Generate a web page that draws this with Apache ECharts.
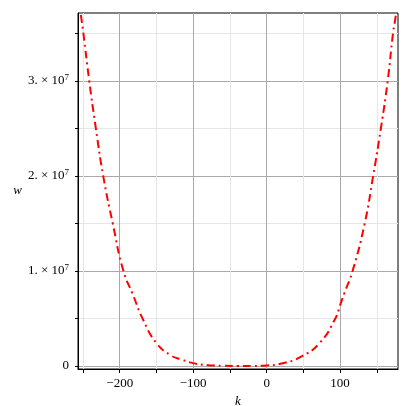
<!DOCTYPE html>
<html><head><meta charset="utf-8">
<script src="https://cdn.jsdelivr.net/npm/echarts@6/dist/echarts.min.js"></script>
<style>html,body{margin:0;padding:0;background:#fff}#c{width:409px;height:406px}</style>
</head><body><div id="c"></div>
<script>
// data
const kValues = [-256.5, -252.7, -249.5, -241.5, -232.5, -222.5, -209.5, -195, -182, -169, -150, -130, -115, -100, -80, -60, -40, -20, 0, 22, 47, 72, 93.5, 100, 106, 117, 133.5, 145, 155.5, 164.8, 172, 175.7, 179];
const wValues = [3.88e7, 3.68e7, 3.5e7, 3.0e7, 2.5e7, 2.0e7, 1.5e7, 1.0e7, 0.75e7, 0.5e7, 0.24e7, 0.11e7, 0.065e7, 0.03e7, 0.008e7, 0.002e7, 0.0, 0.0005e7, 0.005e7, 0.028e7, 0.098e7, 0.24e7, 0.5e7, 0.64e7, 0.77e7, 1.0e7, 1.5e7, 2.0e7, 2.5e7, 3.0e7, 3.5e7, 3.68e7, 3.9e7];
const xMajorTicks = [-200, -100, 0, 100];
const xMinorTicks = [-250, -150, -50, 50, 150];
const yMajorTicks = [0, 1e7, 2e7, 3e7];
const yMinorTicks = [0.5e7, 1.5e7, 2.5e7, 3.5e7];
const xRange = [-256.8, 178.8];
const yRange = [-3.2e5, 3.713e7];
const xName = 'k';
const yName = 'w';

const serif = '"Liberation Serif", "DejaVu Serif", serif';
const minorColor = '#e6e6e6';
const majorColor = '#a9a9a9';

function xLabel(v) { return v < 0 ? '\u2212' + Math.abs(v) : String(v); }
function yLabel(v) {
  if (v === 0) return '{a|0}';
  return '{a|' + Math.round(v / 1e7) + '. \u00d7 10}{s|7}';
}

const chart = echarts.init(document.getElementById('c'), null, {renderer: 'canvas'});
chart.setOption({
  animation: false,
  backgroundColor: '#fff',
  grid: {left: 78, top: 13, right: 11, bottom: 37, show: true, borderColor: '#000', borderWidth: 1,
    backgroundColor: 'transparent', containLabel: false, outerBoundsMode: 'none'},
  xAxis: [
    { // minor grid/ticks
      type: 'value', min: xRange[0], max: xRange[1], position: 'bottom',
      axisLine: {show: false, onZero: false},
      axisTick: {show: true, customValues: xMinorTicks, length: 4, inside: false, lineStyle: {color: '#000'}},
      axisLabel: {show: false},
      splitLine: {show: true, lineStyle: {color: minorColor, width: 1}}
    },
    { // major
      type: 'value', min: xRange[0], max: xRange[1], position: 'bottom',
      name: xName, nameLocation: 'middle', nameGap: 22,
      nameTextStyle: {fontFamily: serif, fontStyle: 'italic', fontSize: 13, color: '#000'},
      axisLine: {show: true, onZero: false, lineStyle: {color: '#000', width: 1}},
      axisTick: {show: true, customValues: xMajorTicks, length: 4, lineStyle: {color: '#000'}},
      axisLabel: {show: true, customValues: xMajorTicks, formatter: xLabel, margin: 8, fontFamily: serif, fontSize: 13, color: '#000'},
      splitLine: {show: true, lineStyle: {color: majorColor, width: 1}}
    }
  ],
  yAxis: [
    {
      type: 'value', min: yRange[0], max: yRange[1], position: 'left',
      axisLine: {show: false, onZero: false},
      axisTick: {show: true, customValues: yMinorTicks, length: 3, lineStyle: {color: '#000'}},
      axisLabel: {show: false},
      splitLine: {show: true, lineStyle: {color: minorColor, width: 1}}
    },
    {
      type: 'value', min: yRange[0], max: yRange[1], position: 'left',
      name: yName, nameLocation: 'middle', nameRotate: 0, nameGap: 50,
      nameTextStyle: {fontFamily: serif, fontStyle: 'italic', fontSize: 13, color: '#000'},
      axisLine: {show: true, onZero: false, lineStyle: {color: '#000', width: 1}},
      axisTick: {show: true, customValues: yMajorTicks, length: 3, lineStyle: {color: '#000'}},
      axisLabel: {show: true, customValues: yMajorTicks, formatter: yLabel, margin: 9,
        rich: {
          a: {fontFamily: serif, fontSize: 13, color: '#000'},
          s: {fontFamily: serif, fontSize: 9, color: '#000', padding: [0, 0, 7, 0]}
        }},
      splitLine: {show: true, lineStyle: {color: majorColor, width: 1}}
    }
  ],
  series: [{
    type: 'line',
    xAxisIndex: 1, yAxisIndex: 1,
    data: kValues.map((k, i) => [k, wValues[i]]),
    showSymbol: false,
    smooth: 0.5,
    clip: true,
    lineStyle: {color: '#ff0000', width: 2, type: [8, 4, 2, 4]}
  }]
});
</script>
</body></html>
